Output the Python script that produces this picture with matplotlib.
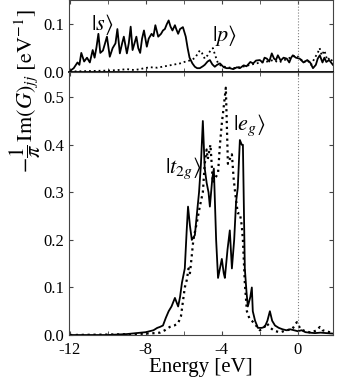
import numpy as np
import matplotlib
matplotlib.use('Agg')
from matplotlib import pyplot as plt

plt.rcParams['font.family'] = ['Liberation Serif', 'DejaVu Serif']
plt.rcParams['mathtext.fontset'] = 'stix'

# top panel: |s> (solid) and |p> (dotted)
e_s = [-12.0, -11.8, -11.6, -11.5, -11.4, -11.25, -11.1, -10.95, -10.8, -10.7, -10.6, -10.5,
       -10.4, -10.26, -10.15, -10.05, -9.9, -9.75, -9.6, -9.5, -9.37, -9.25, -9.16, -9.0,
       -8.9, -8.8, -8.7, -8.6, -8.5, -8.4, -8.3, -8.2, -8.1, -7.95, -7.85, -7.7, -7.6, -7.5,
       -7.35, -7.2, -7.1, -7.0, -6.9, -6.8, -6.7, -6.6, -6.47, -6.4, -6.3, -6.2, -6.05, -5.9,
       -5.8, -5.7, -5.55, -5.42, -5.3, -5.16, -5.0, -4.9, -4.75, -4.63, -4.5, -4.37, -4.25,
       -4.1, -3.9, -3.75, -3.58, -3.4, -3.2, -3.05, -2.85, -2.7, -2.5, -2.35, -2.2, -2.0,
       -1.85, -1.75, -1.63, -1.5, -1.37, -1.25, -1.15, -1.05, -0.9, -0.75, -0.58, -0.45,
       -0.35, -0.26, -0.1, 0.1, 0.3, 0.5, 0.65, 0.8, 0.95, 1.05, 1.16, 1.3, 1.4, 1.5, 1.65, 1.85]
s_val = [0.002, 0.008, 0.02, 0.015, 0.04, 0.022, 0.03, 0.02, 0.046, 0.03, 0.052, 0.08,
         0.04, 0.045, 0.06, 0.074, 0.032, 0.05, 0.06, 0.09, 0.039, 0.06, 0.074, 0.039,
         0.06, 0.095, 0.046, 0.06, 0.074, 0.05, 0.04, 0.07, 0.087, 0.053, 0.07, 0.08, 0.075, 0.098,
         0.074, 0.08, 0.087, 0.09, 0.1, 0.108, 0.095, 0.087, 0.098, 0.09, 0.08, 0.09, 0.094, 0.074,
         0.05, 0.03, 0.018, 0.011, 0.008, 0.008, 0.012, 0.015, 0.022, 0.025, 0.016, 0.011, 0.015,
         0.018, 0.01, 0.008, 0.008, 0.006, 0.01, 0.008, 0.014, 0.012, 0.021, 0.018, 0.024, 0.025,
         0.02, 0.03, 0.028, 0.022, 0.039, 0.028, 0.025, 0.035, 0.024, 0.03, 0.028, 0.02,
         0.03, 0.035, 0.03, 0.028, 0.02, 0.025, 0.02, 0.008, 0.015, 0.028, 0.035, 0.02, 0.03, 0.021, 0.025, 0.015]

e_p = [-12.0, -11.0, -10.0, -9.5, -9.0, -8.6, -8.2, -7.8, -7.4, -7.0, -6.6, -6.2, -5.9, -5.6,
       -5.4, -5.25, -5.16, -5.05, -4.9, -4.75, -4.6, -4.47, -4.35, -4.2, -4.0, -3.7, -3.4,
       -3.1, -2.8, -2.5, -2.2, -1.9, -1.6, -1.3, -1.0, -0.7, -0.4, -0.1, 0.1, 0.3, 0.5, 0.7,
       0.9, 1.05, 1.15, 1.26, 1.4, 1.55, 1.7, 1.85]
p_val = [0.001, 0.002, 0.003, 0.004, 0.006, 0.004, 0.007, 0.01, 0.009, 0.012, 0.015, 0.018,
         0.022, 0.025, 0.03, 0.04, 0.045, 0.04, 0.028, 0.035, 0.045, 0.05, 0.035, 0.018, 0.012,
         0.01, 0.008, 0.01, 0.012, 0.015, 0.018, 0.02, 0.022, 0.025, 0.02, 0.025, 0.03, 0.035,
         0.03, 0.02, 0.025, 0.015, 0.03, 0.04, 0.05, 0.035, 0.045, 0.025, 0.03, 0.02]

# bottom panel: solid and dotted d-orbital curves
e_d1 = [-12.0, -10.0, -9.0, -8.5, -8.0, -7.6, -7.4, -7.26, -7.1, -6.95, -6.8, -6.65, -6.47,
        -6.3, -6.2, -6.1, -5.95, -5.85, -5.78, -5.68, -5.58, -5.42, -5.3, -5.2, -5.1, -5.0,
        -4.9, -4.8, -4.7, -4.63, -4.5, -4.42, -4.3, -4.2, -4.1, -4.0, -3.9, -3.84, -3.7, -3.58,
        -3.47, -3.35, -3.25, -3.16, -3.05, -2.95, -2.89, -2.79, -2.7, -2.63, -2.5, -2.42, -2.37,
        -2.25, -2.1, -1.9, -1.74, -1.6, -1.47, -1.35, -1.2, -1.0, -0.8, -0.6, -0.4, -0.2, 0.0,
        0.2, 0.4, 0.6, 0.9, 1.2, 1.5, 1.85]
d1_val = [0.0, 0.0, 0.002, 0.004, 0.006, 0.01, 0.015, 0.017, 0.02, 0.036, 0.05, 0.06, 0.078,
          0.06, 0.08, 0.11, 0.14, 0.22, 0.27, 0.23, 0.2, 0.21, 0.26, 0.3, 0.36, 0.45,
          0.35, 0.32, 0.3, 0.27, 0.33, 0.35, 0.2, 0.12, 0.14, 0.16, 0.13, 0.12, 0.18, 0.22,
          0.14, 0.2, 0.28, 0.31, 0.41, 0.4, 0.4, 0.14, 0.09, 0.06, 0.08, 0.1, 0.05,
          0.03, 0.015, 0.015, 0.017, 0.03, 0.05, 0.03, 0.02, 0.015, 0.012, 0.01, 0.012, 0.01, 0.008,
          0.01, 0.006, 0.005, 0.004, 0.005, 0.004, 0.003]

e_d2 = [-12.0, -10.0, -8.5, -8.0, -7.5, -7.26, -7.0, -6.74, -6.5, -6.3, -6.15, -6.05, -5.95,
        -5.85, -5.75, -5.68, -5.6, -5.5, -5.4, -5.3, -5.16, -5.0, -4.9, -4.8, -4.74, -4.6,
        -4.47, -4.35, -4.2, -4.1, -4.0, -3.9, -3.79, -3.68, -3.58, -3.47, -3.38, -3.3, -3.16,
        -3.05, -2.95, -2.89, -2.79, -2.68, -2.55, -2.42, -2.2, -2.0, -1.8, -1.63, -1.45, -1.2,
        -0.9, -0.6, -0.3, -0.05, 0.15, 0.4, 0.7, 1.0, 1.16, 1.3, 1.5, 1.85]
d2_val = [0.0, 0.001, 0.002, 0.003, 0.004, 0.005, 0.01, 0.017, 0.02, 0.025, 0.04, 0.07, 0.1,
          0.115, 0.14, 0.13, 0.16, 0.2, 0.22, 0.24, 0.27, 0.3, 0.36, 0.39, 0.37, 0.4,
          0.32, 0.33, 0.34, 0.4, 0.445, 0.48, 0.52, 0.36, 0.37, 0.38, 0.33, 0.3, 0.256,
          0.256, 0.23, 0.2, 0.11, 0.05, 0.035, 0.03, 0.02, 0.01, 0.015, 0.025, 0.015, 0.008,
          0.006, 0.01, 0.012, 0.027, 0.012, 0.008, 0.005, 0.01, 0.017, 0.01, 0.008, 0.004]

x_major = [-12, -8, -4, 0]
x_minor = [-10, -6, -2]

fig = plt.figure(figsize=(3.38, 3.82), dpi=100)
ax1 = fig.add_axes([0.204, 0.8115, 0.781, 0.1875])
ax2 = fig.add_axes([0.204, 0.123, 0.781, 0.6885])

ax1.plot(e_s, s_val, color='black', lw=1.3)
ax1.plot(e_p, p_val, color='black', lw=1.3, ls=':')
ax2.plot(e_d1, d1_val, color='black', lw=1.3)
ax2.plot(e_d2, d2_val, color='black', lw=1.6, ls=':')

for ax in (ax1, ax2):
    ax.axvline(0, color='gray', lw=0.8, ls=':')
    ax.set_xlim(-12.05, 1.85)
    ax.set_xticks(x_major)
    ax.set_xticks(x_minor, minor=True)
    ax.tick_params(which='both', direction='in', top=True, right=True, labelsize=12,
                   length=3, color='#444444')
    for sp in ax.spines.values():
        sp.set_color('#444444')

ax1.set_ylim(0, 0.15)
ax1.set_yticks([0.0, 0.1])
ax1.set_yticklabels(['0.0', '0.1'])
ax1.set_xticklabels([])
ax1.spines['bottom'].set_color('black')
ax1.spines['bottom'].set_linewidth(1.3)

ax2.set_ylim(0, 0.553)
ax2.set_yticks([0.0, 0.1, 0.2, 0.3, 0.4, 0.5])
ax2.set_yticklabels(['0.0', '0.1', '0.2', '0.3', '0.4', '0.5'])
ax2.set_xticklabels(['-12', '-8', '-4', '0'])
ax2.tick_params(axis='x', pad=5)
ax2.set_xlabel('Energy [eV]', fontsize=15, labelpad=0)

ax1.text(-10.9, 0.1, r'$|s\rangle$', fontsize=16, ha='left', va='center')
ax1.text(-4.5, 0.077, r'$|p\rangle$', fontsize=16, ha='left', va='center')
ax2.text(-7.0, 0.35, r'$|t_{2g}\rangle$', fontsize=16, ha='left', va='center')
ax2.text(-3.4, 0.44, r'$|e_g\rangle$', fontsize=16, ha='left', va='center')

fig.text(0.075, 0.76, r'$-\dfrac{1}{\pi}\,\mathrm{Im}(G)_{jj}\ [\mathrm{eV}^{-1}]$',
         rotation=90, fontsize=16, ha='center', va='center')

fig.savefig('out.png', dpi=100)
